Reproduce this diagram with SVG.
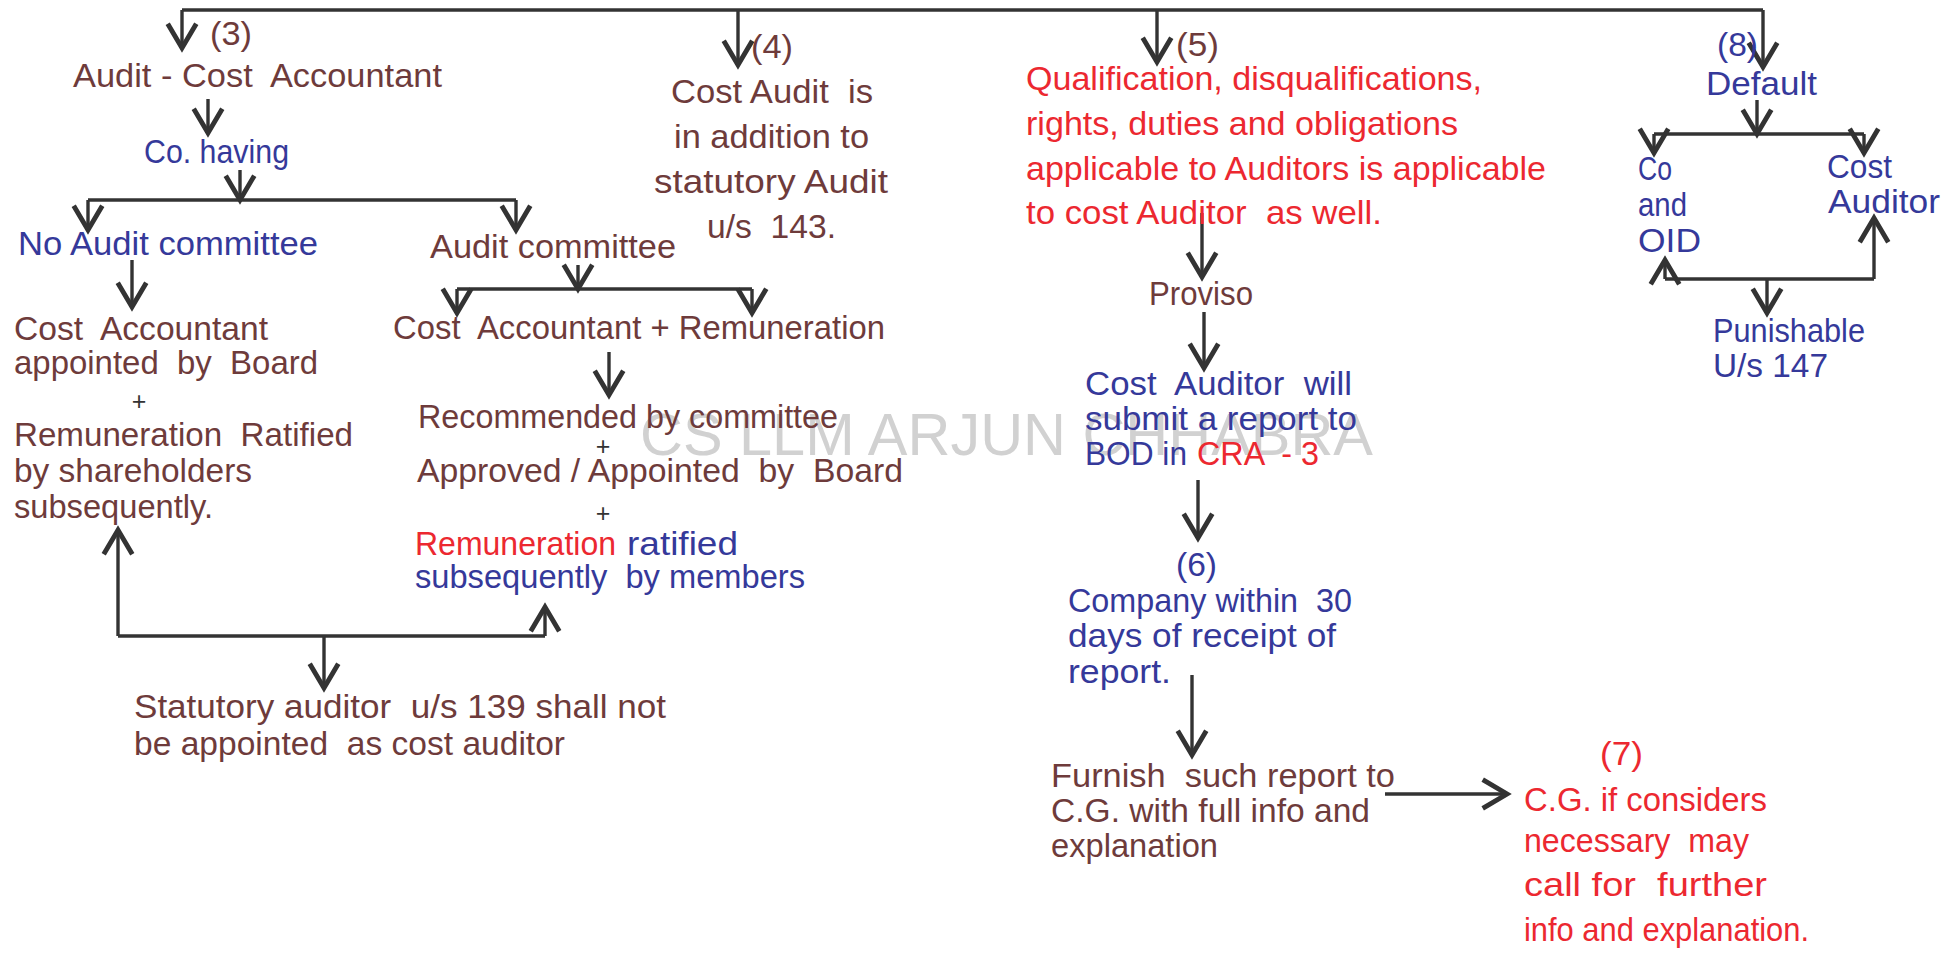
<svg xmlns="http://www.w3.org/2000/svg" width="1955" height="953" viewBox="0 0 1955 953" xml:space="preserve">
<style>
text{font-family:"Liberation Sans",Arial,sans-serif;font-size:33px;white-space:pre}
.br{fill:#6e3b3b}
.bl{fill:#35399a}
.rd{fill:#ec2830}
.pl{font-size:25px;fill:#333333}
.r8{font-size:34px}
.wm{font-size:60px;fill:#c6c6c6;opacity:0.8}
.c{fill:none;stroke:#333333;stroke-width:3.4;stroke-linecap:butt;stroke-linejoin:miter}
.a{marker-end:url(#ah)}
</style>
<defs>
<marker id="ah" markerUnits="userSpaceOnUse" markerWidth="40" markerHeight="40" viewBox="-22 -14 26 28" refX="0" refY="0" orient="auto" overflow="visible">
<path d="M-17,-10 L0,0 L-17,10" fill="none" stroke="#333333" stroke-width="3.4"/>
</marker>
</defs>
<rect x="0" y="0" width="1955" height="953" fill="#ffffff"/>
<g id="watermark"><text class="wm" x="640" y="455" textLength="733" lengthAdjust="spacingAndGlyphs">CS LLM ARJUN CHHABRA</text></g>
<g id="connectors">
<path class="c" d="M182,10 H1763"/>
<path class="c a" d="M182,10 V48"/>
<path class="c a" d="M738,10 V65"/>
<path class="c a" d="M1157,10 V62"/>
<path class="c a" d="M1763,10 V67"/>
<path class="c a" d="M208,99 V133"/>
<path class="c a" d="M240,170 V200"/>
<path class="c" d="M88,200 H516"/>
<path class="c a" d="M88,200 V230"/>
<path class="c a" d="M516,200 V230"/>
<path class="c a" d="M132,260 V307"/>
<path class="c a" d="M578,265 V289"/>
<path class="c" d="M457,289 H752"/>
<path class="c a" d="M457,289 V313"/>
<path class="c a" d="M752,289 V313"/>
<path class="c a" d="M609,352 V395"/>
<path class="c" d="M118,636 H545"/>
<path class="c a" d="M118,636 V530"/>
<path class="c a" d="M545,636 V607"/>
<path class="c a" d="M324,636 V688"/>
<path class="c a" d="M1202,213 V277"/>
<path class="c a" d="M1204,312 V368"/>
<path class="c a" d="M1198,480 V538"/>
<path class="c a" d="M1192,675 V755"/>
<path class="c a" d="M1385,794 H1507"/>
<path class="c a" d="M1757,100 V134"/>
<path class="c" d="M1654,134 H1864"/>
<path class="c a" d="M1654,134 V153"/>
<path class="c a" d="M1864,134 V153"/>
<path class="c" d="M1665,279 H1874"/>
<path class="c a" d="M1665,279 V260"/>
<path class="c a" d="M1874,279 V218"/>
<path class="c a" d="M1767,279 V313"/>
</g>
<g id="n3-label"><text class="br" x="210" y="45" textLength="42" lengthAdjust="spacingAndGlyphs">(3)</text></g>
<g id="audit-cost-accountant"><text class="br" x="73" y="87" textLength="369" lengthAdjust="spacingAndGlyphs">Audit - Cost  Accountant</text></g>
<g id="co-having"><text class="bl" x="144" y="163" textLength="145" lengthAdjust="spacingAndGlyphs">Co. having</text></g>
<g id="no-audit-committee"><text class="bl" x="18" y="255" textLength="300" lengthAdjust="spacingAndGlyphs">No Audit committee</text></g>
<g id="audit-committee"><text class="br" x="430" y="258" textLength="246" lengthAdjust="spacingAndGlyphs">Audit committee</text></g>
<g id="board-appointed">
<text class="br" x="14" y="340" textLength="254" lengthAdjust="spacingAndGlyphs">Cost  Accountant</text>
<text class="br" x="14" y="374" textLength="304" lengthAdjust="spacingAndGlyphs">appointed  by  Board</text>
<text class="pl" x="139" y="410" text-anchor="middle">+</text>
<text class="br" x="14" y="446" textLength="339" lengthAdjust="spacingAndGlyphs">Remuneration  Ratified</text>
<text class="br" x="14" y="482" textLength="238" lengthAdjust="spacingAndGlyphs">by shareholders</text>
<text class="br" x="14" y="518" textLength="199" lengthAdjust="spacingAndGlyphs">subsequently.</text>
</g>
<g id="ca-remuneration"><text class="br" x="393" y="339" textLength="492" lengthAdjust="spacingAndGlyphs">Cost  Accountant + Remuneration</text></g>
<g id="committee-process">
<text class="br" x="418" y="428" textLength="420" lengthAdjust="spacingAndGlyphs">Recommended by committee</text>
<text class="pl" x="603" y="455" text-anchor="middle">+</text>
<text class="br" x="417" y="482" textLength="486" lengthAdjust="spacingAndGlyphs">Approved / Appointed  by  Board</text>
<text class="pl" x="603" y="522" text-anchor="middle">+</text>
<text class="rd" x="415" y="555" textLength="201" lengthAdjust="spacingAndGlyphs">Remuneration</text>
<text class="bl" x="627" y="555" textLength="111" lengthAdjust="spacingAndGlyphs">ratified</text>
<text class="bl" x="415" y="588" textLength="390" lengthAdjust="spacingAndGlyphs">subsequently  by members</text>
</g>
<g id="statutory-auditor">
<text class="br" x="134" y="718" textLength="532" lengthAdjust="spacingAndGlyphs">Statutory auditor  u/s 139 shall not</text>
<text class="br" x="134" y="755" textLength="431" lengthAdjust="spacingAndGlyphs">be appointed  as cost auditor</text>
</g>
<g id="n4">
<text class="br" x="751" y="58" textLength="42" lengthAdjust="spacingAndGlyphs">(4)</text>
<text class="br" x="671" y="103" textLength="202" lengthAdjust="spacingAndGlyphs">Cost Audit  is</text>
<text class="br" x="674" y="148" textLength="195" lengthAdjust="spacingAndGlyphs">in addition to</text>
<text class="br" x="654" y="193" textLength="234" lengthAdjust="spacingAndGlyphs">statutory Audit</text>
<text class="br" x="707" y="238" textLength="129" lengthAdjust="spacingAndGlyphs">u/s  143.</text>
</g>
<g id="n5">
<text class="br" x="1176" y="56" textLength="43" lengthAdjust="spacingAndGlyphs">(5)</text>
<text class="rd" x="1026" y="90" textLength="456" lengthAdjust="spacingAndGlyphs">Qualification, disqualifications,</text>
<text class="rd" x="1026" y="135" textLength="432" lengthAdjust="spacingAndGlyphs">rights, duties and obligations</text>
<text class="rd" x="1026" y="180" textLength="520" lengthAdjust="spacingAndGlyphs">applicable to Auditors is applicable</text>
<text class="rd" x="1026" y="224" textLength="356" lengthAdjust="spacingAndGlyphs">to cost Auditor  as well.</text>
</g>
<g id="proviso"><text class="br" x="1149" y="305" textLength="104" lengthAdjust="spacingAndGlyphs">Proviso</text></g>
<g id="cost-auditor-report">
<text class="bl" x="1085" y="395" textLength="267" lengthAdjust="spacingAndGlyphs">Cost  Auditor  will</text>
<text class="bl" x="1085" y="430" textLength="272" lengthAdjust="spacingAndGlyphs">submit a report to</text>
<text class="bl" x="1085" y="465" textLength="102" lengthAdjust="spacingAndGlyphs">BOD in</text>
<text class="rd" x="1197" y="465" textLength="122" lengthAdjust="spacingAndGlyphs">CRA  - 3</text>
</g>
<g id="n6">
<text class="bl" x="1176" y="576" textLength="41" lengthAdjust="spacingAndGlyphs">(6)</text>
<text class="bl" x="1068" y="612" textLength="284" lengthAdjust="spacingAndGlyphs">Company within  30</text>
<text class="bl" x="1068" y="647" textLength="268" lengthAdjust="spacingAndGlyphs">days of receipt of</text>
<text class="bl" x="1068" y="683" textLength="103" lengthAdjust="spacingAndGlyphs">report.</text>
</g>
<g id="furnish">
<text class="br" x="1051" y="787" textLength="344" lengthAdjust="spacingAndGlyphs">Furnish  such report to</text>
<text class="br" x="1051" y="822" textLength="319" lengthAdjust="spacingAndGlyphs">C.G. with full info and</text>
<text class="br" x="1051" y="857" textLength="167" lengthAdjust="spacingAndGlyphs">explanation</text>
</g>
<g id="n7">
<text class="rd" x="1600" y="765" textLength="43" lengthAdjust="spacingAndGlyphs">(7)</text>
<text class="rd" x="1524" y="811" textLength="243" lengthAdjust="spacingAndGlyphs">C.G. if considers</text>
<text class="rd" x="1524" y="852" textLength="225" lengthAdjust="spacingAndGlyphs">necessary  may</text>
<text class="rd" x="1524" y="896" textLength="243" lengthAdjust="spacingAndGlyphs">call for  further</text>
<text class="rd" x="1524" y="941" textLength="285" lengthAdjust="spacingAndGlyphs">info and explanation.</text>
</g>
<g id="n8">
<text class="bl r8" x="1717" y="56" textLength="41" lengthAdjust="spacingAndGlyphs">(8)</text>
<text class="bl r8" x="1706" y="95" textLength="111" lengthAdjust="spacingAndGlyphs">Default</text>
</g>
<g id="co-oid">
<text class="bl r8" x="1638" y="180" textLength="34" lengthAdjust="spacingAndGlyphs">Co</text>
<text class="bl r8" x="1638" y="216" textLength="49" lengthAdjust="spacingAndGlyphs">and</text>
<text class="bl r8" x="1638" y="252" textLength="63" lengthAdjust="spacingAndGlyphs">OID</text>
</g>
<g id="cost-auditor-default">
<text class="bl r8" x="1827" y="178" textLength="65" lengthAdjust="spacingAndGlyphs">Cost</text>
<text class="bl r8" x="1828" y="213" textLength="112" lengthAdjust="spacingAndGlyphs">Auditor</text>
</g>
<g id="punishable">
<text class="bl r8" x="1713" y="342" textLength="152" lengthAdjust="spacingAndGlyphs">Punishable</text>
<text class="bl r8" x="1713" y="377" textLength="115" lengthAdjust="spacingAndGlyphs">U/s 147</text>
</g>
</svg>
